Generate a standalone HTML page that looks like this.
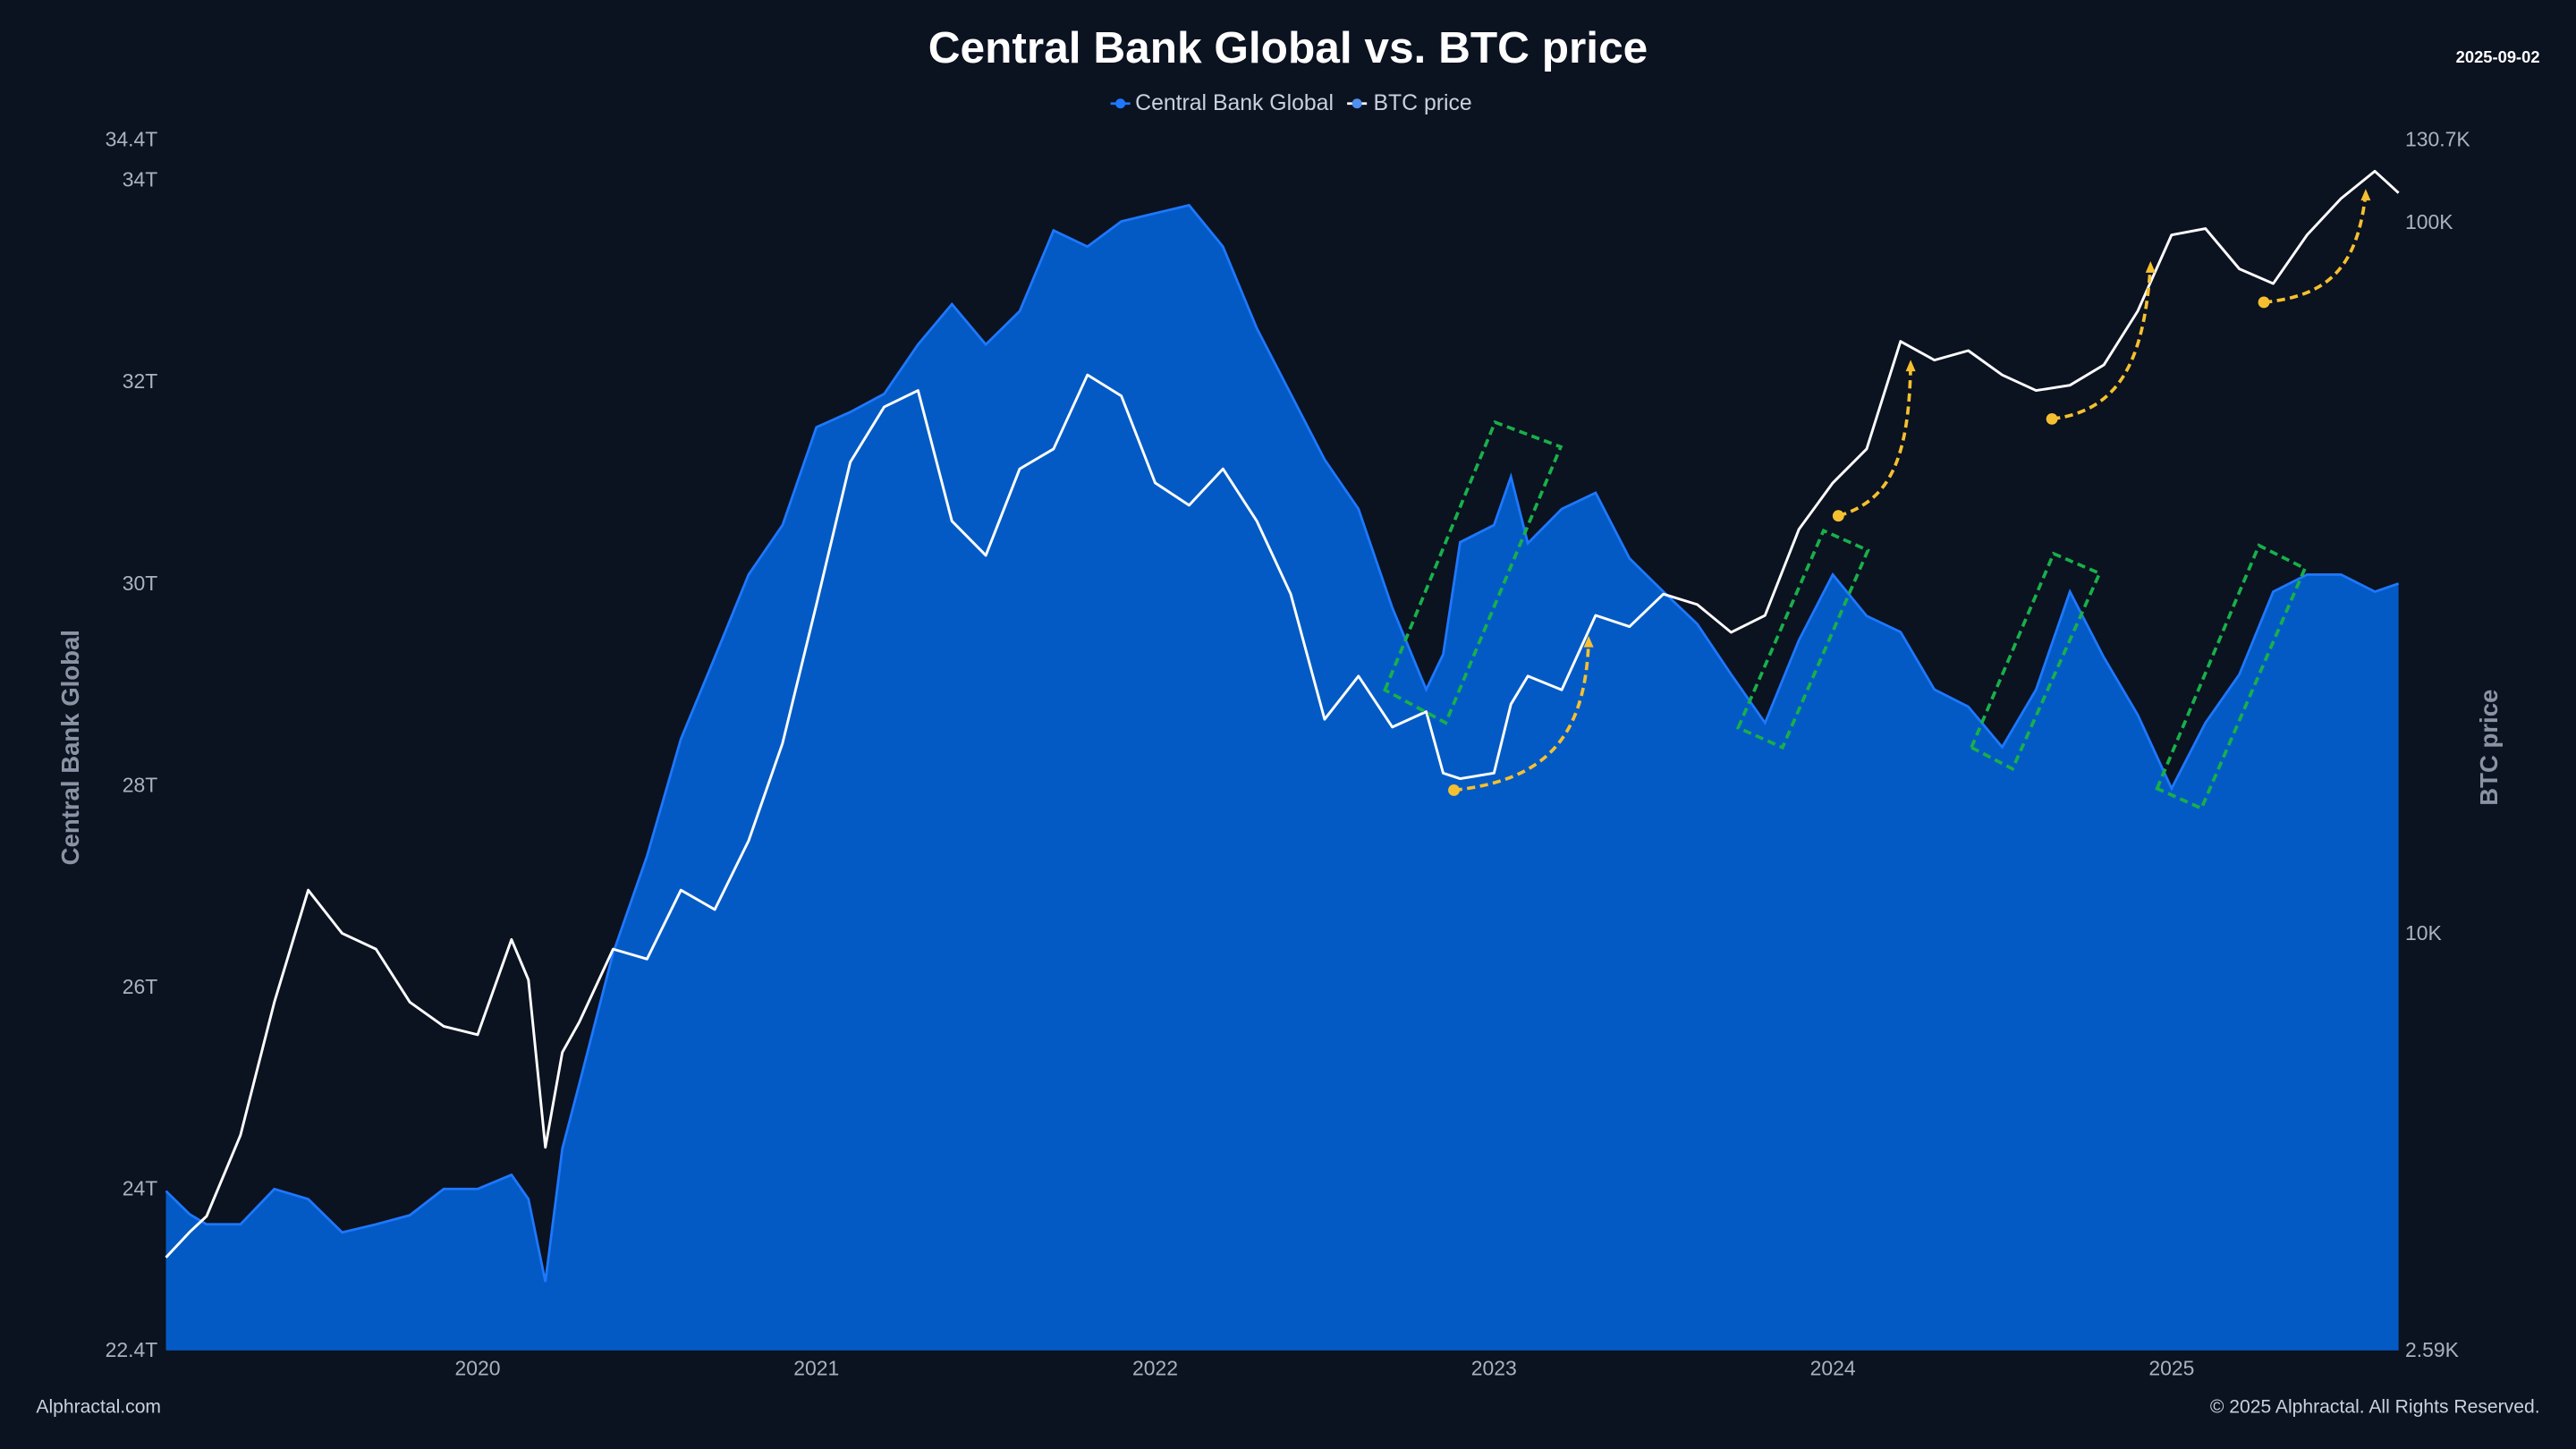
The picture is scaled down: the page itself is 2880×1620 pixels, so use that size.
<!DOCTYPE html>
<html><head><meta charset="utf-8">
<style>
html,body{margin:0;padding:0;background:#0b1220;}
svg{display:block;}
text{font-family:"Liberation Sans",sans-serif;}
</style></head>
<body>
<svg id="chart" width="2880" height="1620" viewBox="0 0 1568 882" xmlns="http://www.w3.org/2000/svg">
<rect x="0" y="0" width="1568" height="882" fill="#0b1220"/>
<text x="784" y="38" text-anchor="middle" font-size="27" font-weight="bold" fill="#ffffff">Central Bank Global vs. BTC price</text>
<text x="1546" y="38" text-anchor="end" font-size="10" font-weight="bold" fill="#ffffff">2025-09-02</text>
<g>
 <g>
  <line x1="676" y1="63" x2="688" y2="63" stroke="#1e78ff" stroke-width="1.5"/><circle cx="682" cy="63" r="3" fill="#1e78ff"/>
  <text x="691" y="67" font-size="13.5" fill="#c9d1dd">Central Bank Global</text>
 </g>
 <g>
  <line x1="820" y1="63" x2="832" y2="63" stroke="#ffffff" stroke-width="1.5"/><circle cx="826" cy="63" r="3" fill="#4f8ff0"/>
  <text x="836" y="67" font-size="13.5" fill="#c9d1dd">BTC price</text>
 </g>
</g>
<text x="780" y="495" text-anchor="middle" font-size="72" fill="#ffffff" fill-opacity="0.05">Alphractal</text>
<g id="plot"></g>
<text transform="translate(48,455) rotate(-90)" text-anchor="middle" font-size="15" font-weight="bold" fill="#8a93a3">Central Bank Global</text>
<text transform="translate(1520,455) rotate(-90)" text-anchor="middle" font-size="15" font-weight="bold" fill="#8a93a3">BTC price</text>
<text x="22" y="860" font-size="11.5" fill="#c9d1dd">Alphractal.com</text>
<text x="1546" y="860" text-anchor="end" font-size="11.5" fill="#c9d1dd">© 2025 Alphractal. All Rights Reserved.</text>
</svg>
<script>
const years = [2019.08,2019.15,2019.2,2019.3,2019.4,2019.5,2019.6,2019.7,2019.8,2019.9,2020.0,2020.1,2020.15,2020.2,2020.25,2020.3,2020.4,2020.5,2020.6,2020.7,2020.8,2020.9,2021.0,2021.1,2021.2,2021.3,2021.4,2021.5,2021.6,2021.7,2021.8,2021.9,2022.0,2022.1,2022.2,2022.3,2022.4,2022.5,2022.6,2022.7,2022.8,2022.85,2022.9,2023.0,2023.05,2023.1,2023.2,2023.3,2023.4,2023.5,2023.6,2023.7,2023.8,2023.9,2024.0,2024.1,2024.2,2024.3,2024.4,2024.5,2024.6,2024.7,2024.8,2024.9,2025.0,2025.1,2025.2,2025.3,2025.4,2025.5,2025.6,2025.67];
const cbValues = [23.98,23.75,23.65,23.65,24.0,23.9,23.57,23.65,23.74,24.0,24.0,24.14,23.9,23.08,24.4,25.04,26.34,27.3,28.46,29.27,30.09,30.58,31.55,31.7,31.88,32.37,32.77,32.37,32.7,33.5,33.34,33.59,33.67,33.75,33.34,32.53,31.88,31.23,30.74,29.76,28.95,29.3,30.41,30.58,31.06,30.4,30.74,30.9,30.25,29.92,29.6,29.1,28.62,29.44,30.09,29.68,29.52,28.95,28.78,28.38,28.95,29.92,29.27,28.7,27.97,28.62,29.1,29.92,30.09,30.09,29.92,30.0];
const btcValues = [3.5,3.8,4.0,5.2,8.0,11.5,10.0,9.5,8.0,7.4,7.2,9.8,8.6,5.0,6.8,7.5,9.5,9.2,11.5,10.8,13.5,18.5,29,46,55,58,38,34,45,48,61,57,43,40,45,38,30,20,23,19.5,20.5,16.8,16.5,16.8,21,23,22,28,27,30,29,26.5,28,37,43,48,68,64,66,61,58,59,63,75,96,98,86,82,96,108,118,110];
const leftTicks = [22.4,24,26,28,30,32,34,34.4];
const leftTickLabels = ["22.4T","24T","26T","28T","30T","32T","34T","34.4T"];
const rightTicks = [2.59,10,100,130.7];
const rightTickLabels = ["2.59K","10K","100K","130.7K"];
const xTicks = [2020,2021,2022,2023,2024,2025];
const xTickLabels = ["2020","2021","2022","2023","2024","2025"];

const X0=101,X1=1460,Y0=822,Y1=85;
const xMin=2019.08,xMax=2025.67,lMin=22.4,lMax=34.4,rMin=2.59,rMax=130.7;
const xs=v=>X0+(v-xMin)/(xMax-xMin)*(X1-X0);
const yl=v=>Y0-(v-lMin)/(lMax-lMin)*(Y0-Y1);
const yr=v=>Y0-Math.log(v/rMin)/Math.log(rMax/rMin)*(Y0-Y1);
const NS="http://www.w3.org/2000/svg";
const plot=document.getElementById('plot');
function mk(tag,attrs){const e=document.createElementNS(NS,tag);for(const k in attrs)e.setAttribute(k,attrs[k]);return e;}

// area
let d='M'+xs(years[0])+','+Y0;
years.forEach((t,i)=>{d+=' L'+xs(t).toFixed(2)+','+yl(cbValues[i]).toFixed(2);});
d+=' L'+xs(years[years.length-1])+','+Y0+' Z';
const area=mk('path',{d:d,fill:'#045ac4'});


plot.appendChild(area);
let dl='';
years.forEach((t,i)=>{dl+=(i?' L':'M')+xs(t).toFixed(2)+','+yl(cbValues[i]).toFixed(2);});
const cbLine=mk('path',{d:dl,fill:'none',stroke:'#1e78ff','stroke-width':1.5});


plot.appendChild(cbLine);

// btc line
let db='';
years.forEach((t,i)=>{db+=(i?' L':'M')+xs(t).toFixed(2)+','+yr(btcValues[i]).toFixed(2);});
const btc=mk('path',{d:db,fill:'none',stroke:'#ffffff','stroke-width':1.6,'stroke-linejoin':'round'});


plot.appendChild(btc);

// axes labels
leftTicks.forEach((v,i)=>{
  const t=mk('text',{x:96,y:yl(v)+4,'text-anchor':'end','font-size':12.5,fill:'#aab2bf'});
  t.textContent=leftTickLabels[i];
  
  
  plot.appendChild(t);
});
rightTicks.forEach((v,i)=>{
  const t=mk('text',{x:1464,y:yr(v)+4,'font-size':12.5,fill:'#aab2bf'});
  t.textContent=rightTickLabels[i];
  
  
  plot.appendChild(t);
});
xTicks.forEach((v,i)=>{
  const t=mk('text',{x:xs(v),y:837,'text-anchor':'middle','font-size':12.5,fill:'#aab2bf'});
  t.textContent=xTickLabels[i];
  
  
  plot.appendChild(t);
});

// annotations (decorative)
const boxes=[[843,420,910,257,950,272,880,440],[1058,443,1110,323,1137,335,1085,455],[1200,455,1250,337,1278,349,1225,468],[1313,480,1375,332,1403,346,1340,492]];
boxes.forEach(b=>{
  const p=mk('polygon',{points:b.join(' '),fill:'none',stroke:'#18b04a','stroke-width':2,'stroke-dasharray':'5,3'});
  
  
  plot.appendChild(p);
});
const arrows=[[885,481,'C940,475 965,450 967,390'],[1119,314,'C1150,305 1162,280 1163,222'],[1249,255,'C1290,250 1305,220 1309,162'],[1378,184,'C1420,180 1435,160 1440,118']];
arrows.forEach(a=>{
  const p=mk('path',{d:'M'+a[0]+','+a[1]+' '+a[2],fill:'none',stroke:'#f5c030','stroke-width':2,'stroke-dasharray':'5,3'});
  
  
  plot.appendChild(p);
  const c=mk('circle',{cx:a[0],cy:a[1],r:3.5,fill:'#f5c030'});
  
  
  plot.appendChild(c);
  const m=a[2].split(' '),end=m[m.length-1].split(',').map(Number);
  const h=mk('polygon',{points:(end[0]-3)+','+(end[1]+4)+' '+(end[0]+3)+','+(end[1]+4)+' '+end[0]+','+(end[1]-3),fill:'#f5c030'});
  
  
  plot.appendChild(h);
});
</script>
</body></html>
